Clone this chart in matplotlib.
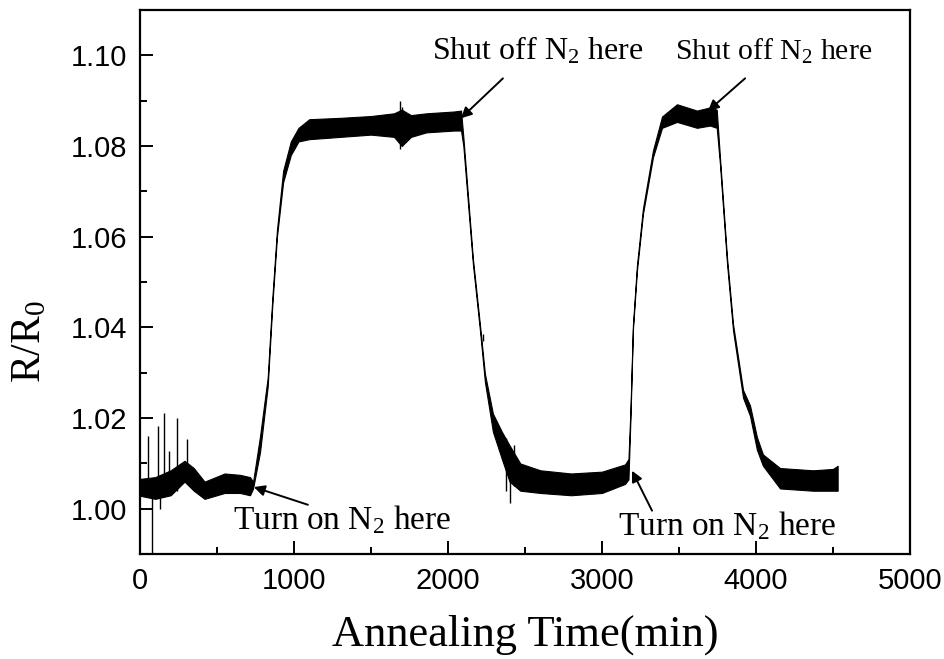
import numpy as np
import matplotlib
matplotlib.use('Agg')
import matplotlib.pyplot as plt
from matplotlib.ticker import MultipleLocator, FormatStrFormatter

plt.rcParams['mathtext.fontset'] = 'custom'
plt.rcParams['mathtext.rm'] = 'Liberation Serif'
plt.rcParams['mathtext.it'] = 'Liberation Serif:italic'

# trace: time (min), lower and upper edge of the noisy band
t_knots = [0, 100, 200, 290, 350, 420, 550, 650, 715,
           735, 780, 830, 860, 890, 930, 980, 1030, 1100, 1300, 1500,
           1650, 1700, 1760, 1860, 2040, 2085,
           2100, 2162, 2208, 2240, 2292, 2350, 2400, 2470, 2600, 2800,
           3000, 3150, 3172,
           3185, 3201, 3227, 3266, 3331, 3390, 3487, 3617, 3701, 3745,
           3766, 3812, 3851, 3916, 3961, 4006, 4045, 4156, 4370, 4500, 4530]
r_lo = [1.0029, 1.0022, 1.0030, 1.0060, 1.0040, 1.0022, 1.0035, 1.0035, 1.0030,
        1.0045, 1.0125, 1.0270, 1.0450, 1.0600, 1.0720, 1.0780, 1.0810, 1.0815, 1.0820, 1.0825,
        1.0820, 1.0800, 1.0820, 1.0830, 1.0834, 1.0834,
        1.0800, 1.0540, 1.0393, 1.0280, 1.0170, 1.0110, 1.0060, 1.0040, 1.0035, 1.0030,
        1.0035, 1.0055, 1.0065,
        1.0200, 1.0395, 1.0525, 1.0650, 1.0775, 1.0840, 1.0853, 1.0840, 1.0845, 1.0840,
        1.0760, 1.0540, 1.0393, 1.0245, 1.0205, 1.0130, 1.0095, 1.0045, 1.0040, 1.0040, 1.0040]
r_hi = [1.0066, 1.0070, 1.0085, 1.0106, 1.0090, 1.0060, 1.0078, 1.0075, 1.0070,
        1.0060, 1.0160, 1.0290, 1.0465, 1.0615, 1.0745, 1.0810, 1.0840, 1.0859, 1.0862, 1.0866,
        1.0872, 1.0880, 1.0868, 1.0872, 1.0876, 1.0878,
        1.0820, 1.0552, 1.0405, 1.0298, 1.0210, 1.0170, 1.0140, 1.0100, 1.0085, 1.0078,
        1.0082, 1.0098, 1.0110,
        1.0220, 1.0405, 1.0537, 1.0662, 1.0790, 1.0865, 1.0892, 1.0878, 1.0885, 1.0880,
        1.0775, 1.0553, 1.0407, 1.0262, 1.0228, 1.0158, 1.0120, 1.0090, 1.0085, 1.0088, 1.0095]

# isolated spikes: time, bottom, top
spike_t = [52, 78, 117, 130, 155, 192, 240, 305, 1688, 1700, 2227, 2380, 2403, 2430]
spike_lo = [1.0040, 0.9850, 1.0040, 1.0000, 1.0040, 1.0040, 1.0040, 1.0060, 1.0793, 1.0800, 1.0370, 1.0040, 1.0013, 1.0050]
spike_hi = [1.0160, 1.0050, 1.0183, 1.0050, 1.0211, 1.0128, 1.0200, 1.0154, 1.0899, 1.0885, 1.0385, 1.0156, 1.0080, 1.0140]

fig = plt.figure(figsize=(9.45, 6.59), dpi=100)
ax = fig.add_axes([0.148, 0.159, 0.815, 0.826])

ax.fill_between(t_knots, r_lo, r_hi, color='black', linewidth=0.8, edgecolor='black')
ax.vlines(spike_t, spike_lo, spike_hi, color='black', linewidth=1.0)

ax.set_xlim(0, 5000)
ax.set_ylim(0.99, 1.11)
ax.xaxis.set_major_locator(MultipleLocator(1000))
ax.xaxis.set_minor_locator(MultipleLocator(500))
ax.yaxis.set_major_locator(MultipleLocator(0.02))
ax.yaxis.set_minor_locator(MultipleLocator(0.01))
ax.yaxis.set_major_formatter(FormatStrFormatter('%.2f'))
ax.tick_params(which='both', direction='in', top=False, right=False, width=1.4)
ax.tick_params(which='major', length=9.5, pad=9, labelsize=21)
ax.tick_params(which='minor', length=5)
for lab in ax.get_xticklabels() + ax.get_yticklabels():
    lab.set_family('Liberation Sans')
for s in ax.spines.values():
    s.set_linewidth(1.6)

ax.set_xlabel('Annealing Time(min)', family='Liberation Serif', fontsize=32)
ax.set_ylabel('R/R$_0$', family='Liberation Serif', fontsize=30)
ax.xaxis.set_label_coords(0.5, -0.110)
ax.yaxis.set_label_coords(-0.117, 0.39)

arrow = dict(arrowstyle='-|>', color='black', lw=1.4, mutation_scale=16, shrinkA=0, shrinkB=0)
ax.text(604, 0.9956, 'Turn on N$_2$ here', fontsize=24, family='Liberation Serif',
        ha='left', va='baseline')
ax.annotate('', xy=(740, 1.0048), xytext=(1091, 1.0009), arrowprops=arrow)
ax.text(3104, 0.9943, 'Turn on N$_2$ here', fontsize=24, family='Liberation Serif',
        ha='left', va='baseline')
ax.annotate('', xy=(3195, 1.0084), xytext=(3325, 0.9996), arrowprops=arrow)
ax.text(1896, 1.0991, 'Shut off N$_2$ here', fontsize=23, family='Liberation Serif',
        ha='left', va='baseline')
ax.annotate('', xy=(2084, 1.0861), xytext=(2357, 1.0949), arrowprops=arrow)
ax.text(3474, 1.0991, 'Shut off N$_2$ here', fontsize=21.5, family='Liberation Serif',
        ha='left', va='baseline')
ax.annotate('', xy=(3688, 1.0877), xytext=(3929, 1.0949), arrowprops=arrow)

fig.savefig('out.png', dpi=100)
